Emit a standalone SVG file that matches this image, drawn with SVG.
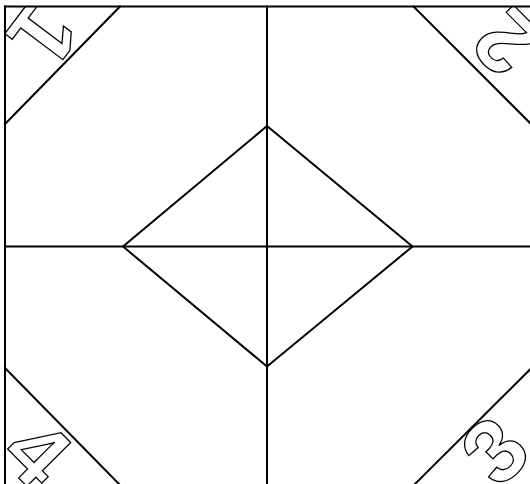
<svg xmlns="http://www.w3.org/2000/svg" width="530" height="484" viewBox="0 0 530 484">
<style>
.ln{stroke:#000;stroke-width:2;fill:none;stroke-linecap:square}
.dg{font-family:"Liberation Sans",Arial,sans-serif;font-weight:bold;font-size:90px;fill:#fff;stroke:#000;stroke-width:1.3;text-anchor:middle}
</style>
<defs>
<clipPath id="frame"><rect x="5" y="6.5" width="530" height="480"/></clipPath>
</defs>
<rect width="530" height="484" fill="#fff"/>
<g id="labels" clip-path="url(#frame)">
<g id="n1" transform="translate(44,35) rotate(127)"><text class="dg" x="0" y="32">1</text></g>
<g id="n2" transform="translate(506,43) rotate(-135)"><text class="dg" x="0" y="32">2</text></g>
<g id="n3" transform="translate(494,450) rotate(-45)"><text class="dg" x="0" y="32">3</text></g>
<g id="n4" transform="translate(38,452) rotate(45)"><text class="dg" x="0" y="32">4</text></g>
</g>
<g id="connectors">
<line class="ln" x1="5" y1="6.5" x2="530" y2="6.5"/>
<line class="ln" x1="5" y1="6.5" x2="5" y2="484"/>
<line class="ln" x1="267" y1="6.5" x2="267" y2="484"/>
<line class="ln" x1="5" y1="246.5" x2="530" y2="246.5"/>
<polygon class="ln" points="267,126 412.5,246.5 267,366.5 123,246.5" style="stroke-linejoin:miter"/>
<line class="ln" x1="120" y1="6.5" x2="5" y2="124"/>
<line class="ln" x1="413.5" y1="6.5" x2="530" y2="123"/>
<line class="ln" x1="5" y1="368" x2="119" y2="484"/>
<line class="ln" x1="530" y1="369.5" x2="415" y2="484"/>
</g>
</svg>
